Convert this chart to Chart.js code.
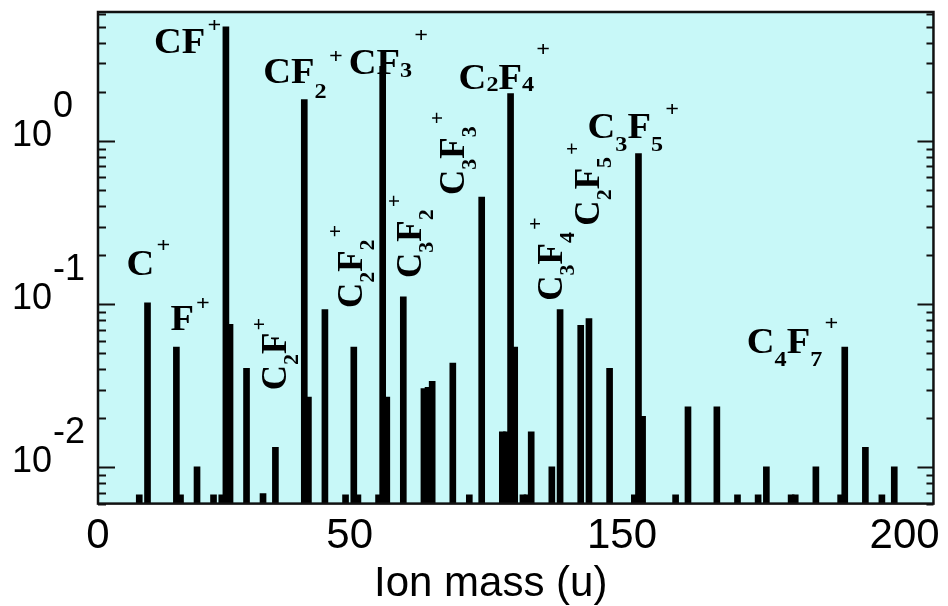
<!DOCTYPE html>
<html>
<head>
<meta charset="utf-8">
<title>Ion mass spectrum</title>
<script src="https://cdn.jsdelivr.net/npm/chart.js@4.4.0/dist/chart.umd.min.js"></script>
<style>
  html, body { margin: 0; padding: 0; background: #ffffff; }
  #wrap { width: 948px; height: 606px; }
</style>
</head>
<body>
<div id="wrap"><canvas id="mychart" width="948" height="606"></canvas></div>
<script>
// peaks: mass (u) and relative intensity
var masses = [10, 12, 19, 20, 24, 28, 30, 31, 32, 36, 40, 43, 50, 51, 55, 60, 62, 63, 68, 69,
              70, 74, 79, 80, 81, 86, 90, 93, 98, 99, 100, 101, 103, 104, 105, 110, 112, 117, 119, 124,
              130, 131, 132, 140, 143, 150, 155, 160, 162, 168, 169, 174, 180, 181, 186, 190, 193];
var intensity = [0.0068, 0.102, 0.0547, 0.0068, 0.0101, 0.0068, 0.0068, 5.03, 0.0754, 0.0405, 0.0069, 0.0133, 1.80, 0.027, 0.0927, 0.0068, 0.0547, 0.0068, 0.0068, 2.88,
                 0.027, 0.111, 0.0304, 0.031, 0.0337, 0.0436, 0.0068, 0.455, 0.0165, 0.0165, 1.96, 0.0547, 0.0068, 0.0068, 0.0165, 0.0101, 0.0927, 0.0743, 0.0817, 0.0405,
                 0.0068, 0.84, 0.0206, 0.0068, 0.0235, 0.0235, 0.0068, 0.0068, 0.0101, 0.0068, 0.0068, 0.0101, 0.0068, 0.0547, 0.0133, 0.0068, 0.0101];

// labelled ions ( _ = subscript, ^ = superscript )
var ionNames = ['C^+', 'F^+', 'CF^+', 'C_2F^+', 'CF_2^+', 'C_2F_2^+', 'CF_3^+', 'C_3F_2^+', 'C_3F_3^+',
                'C_2F_4^+', 'C_3F_4^+', 'C_2F_5^+', 'C_3F_5^+', 'C_4F_7^+'];
var ionMasses = [12, 19, 31, 43, 50, 62, 69, 74, 93, 100, 112, 119, 131, 181];

// x labels as printed in the figure, and the mass each one sits over
var xTickLabels = ['0', '50', '150', '200'];
var xTickValues = [0, 61, 127, 195.5];
var yDecades = [0, -1, -2];

// label placement relative to the top of its peak
var ionPlace = [
  {dx: -21, dy: -28, rot: false, sub: 0, sup: 23},
  {dx: -6, dy: -17, rot: false, sub: 0, sup: 20},
  {dx: -72, dy: 26, rot: false, sub: 0, sup: 21},
  {dx: 11, dy: -57, rot: true, sub: 12, sup: 20},
  {dx: -41, dy: -17, rot: false, sub: 15, sup: 20},
  {dx: 8, dy: -39, rot: true, sub: 12, sup: 20},
  {dx: -34, dy: 8, rot: false, sub: 3, sup: 32},
  {dx: 18, dy: -19, rot: true, sub: 12, sup: 20},
  {dx: -18, dy: -2, rot: true, sub: 12, sup: 20},
  {dx: -52, dy: -5, rot: false, sub: 2, sup: 33},
  {dx: 2, dy: -9, rot: true, sub: 12, sup: 20},
  {dx: 10, dy: -93, rot: true, sub: 12, sup: 20},
  {dx: -51, dy: -16, rot: false, sub: 13, sup: 22},
  {dx: -98, dy: 6, rot: false, sub: 13, sup: 23}
];

var bigFont = 'bold 35px "Liberation Serif", "DejaVu Serif", serif';
var smallFont = 'bold 22px "Liberation Serif", "DejaVu Serif", serif';

function drawFormula(ctx, text, x, y, place) {
  ctx.save();
  ctx.translate(x, y);
  if (place.rot) {
    ctx.rotate(-Math.PI / 2);
  } else {
    ctx.scale(1.1, 1);
  }
  ctx.fillStyle = '#000';
  ctx.textAlign = 'left';
  ctx.textBaseline = 'alphabetic';
  var cx = 0;
  for (var i = 0; i < text.length; i++) {
    var ch = text[i];
    if (ch === '_') {
      i++;
      ctx.font = smallFont;
      ctx.fillText(text[i], cx, place.sub);
      cx += ctx.measureText(text[i]).width;
    } else if (ch === '^') {
      i++;
      cx += 2;
      ctx.font = smallFont;
      ctx.fillText(text[i], cx, -place.sup);
      cx += ctx.measureText(text[i]).width;
    } else {
      ctx.font = bigFont;
      ctx.fillText(ch, cx, 0);
      cx += ctx.measureText(ch).width;
    }
  }
  ctx.restore();
}

var framePlugin = {
  id: 'frame',
  beforeDatasetsDraw: function (chart) {
    var a = chart.chartArea;
    var ctx = chart.ctx;
    ctx.save();
    ctx.fillStyle = '#c8f8f8';
    ctx.fillRect(a.left, a.top, a.right - a.left, a.bottom - a.top);
    ctx.restore();
  },
  afterDatasetsDraw: function (chart) {
    var a = chart.chartArea;
    var ctx = chart.ctx;
    var yScale = chart.scales.y;
    var xScale = chart.scales.x;

    ctx.save();
    // log ticks pointing in, on both sides
    ctx.strokeStyle = '#111';
    ctx.lineWidth = 2;
    ctx.beginPath();
    for (var e = -3; e <= 0; e++) {
      for (var m = 1; m <= 9; m++) {
        var v = m * Math.pow(10, e);
        if (v < yScale.min || v > yScale.max) continue;
        var py = Math.round(yScale.getPixelForValue(v)) + 0.5;
        var len = m === 1 ? 17 : 8;
        ctx.moveTo(a.left, py);
        ctx.lineTo(a.left + len, py);
        ctx.moveTo(a.right, py);
        ctx.lineTo(a.right - len + 1, py);
      }
    }
    ctx.stroke();

    ctx.lineWidth = 2.5;
    ctx.strokeRect(a.left, a.top, a.right - a.left, a.bottom - a.top);

    // 10^n labels
    ctx.fillStyle = '#000';
    ctx.textAlign = 'left';
    ctx.textBaseline = 'middle';
    ctx.font = '36px "Liberation Sans", Arial, sans-serif';
    var baseW = ctx.measureText('10').width;
    yDecades.forEach(function (d) {
      var py = yScale.getPixelForValue(Math.pow(10, d)) - 5;
      ctx.fillText('10', 12, py);
      ctx.fillText(String(d), 12 + baseW + 1, py - 29);
    });

    // axis title
    ctx.textAlign = 'center';
    ctx.textBaseline = 'alphabetic';
    ctx.font = '42px "Liberation Sans", Arial, sans-serif';
    ctx.fillText('Ion mass (u)', (a.left + a.right) / 2 - 25, 596);
    ctx.restore();

    // ion names
    ionNames.forEach(function (name, i) {
      var k = masses.indexOf(ionMasses[i]);
      var px = xScale.getPixelForValue(ionMasses[i]);
      var py = yScale.getPixelForValue(intensity[k]);
      var place = ionPlace[i];
      drawFormula(ctx, name, px + place.dx, py + place.dy, place);
    });
  }
};

var context = document.getElementById('mychart').getContext('2d');
var chart = new Chart(context, {
  type: 'bar',
  data: {
    datasets: [{
      label: 'intensity',
      data: masses.map(function (m, i) { return {x: m, y: intensity[i]}; }),
      backgroundColor: '#000',
      borderWidth: 0,
      barThickness: 6
    }]
  },
  options: {
    responsive: false,
    animation: false,
    layout: { padding: { left: 98, right: 11, top: 12, bottom: 36 } },
    plugins: {
      legend: { display: false },
      tooltip: { enabled: false }
    },
    scales: {
      x: {
        type: 'linear',
        min: 0,
        max: 202.5,
        offset: false,
        grid: { display: false, drawTicks: false },
        border: { display: false },
        afterBuildTicks: function (scale) {
          scale.ticks = xTickValues.map(function (v) { return {value: v}; });
        },
        ticks: {
          autoSkip: false,
          maxRotation: 0,
          padding: 8,
          color: '#000',
          font: { family: '"Liberation Sans", Arial, sans-serif', size: 42 },
          callback: function (value, index) { return xTickLabels[index]; }
        }
      },
      y: {
        type: 'logarithmic',
        min: 0.006,
        max: 6.2,
        display: false
      }
    }
  },
  plugins: [framePlugin]
});
</script>
</body>
</html>
